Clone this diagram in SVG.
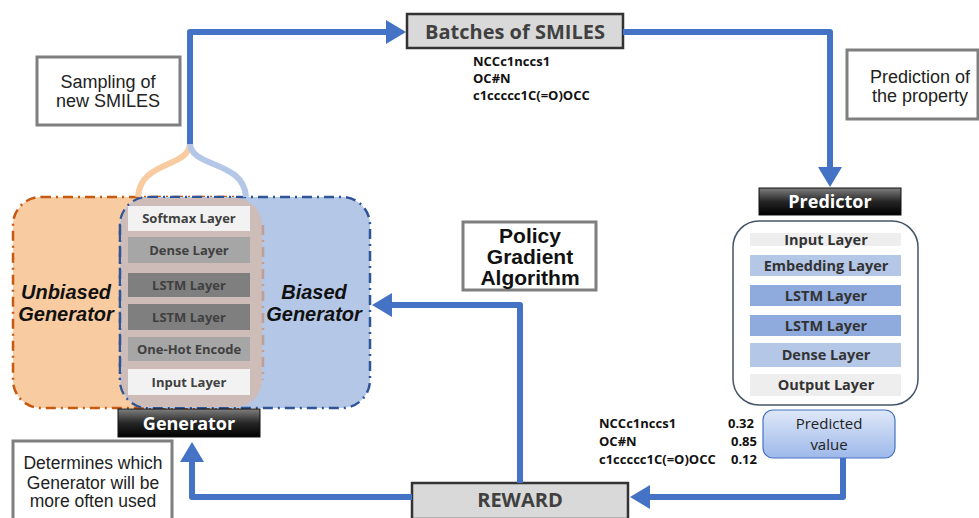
<svg xmlns="http://www.w3.org/2000/svg" width="979" height="518" viewBox="0 0 979 518">
<defs>
<style>
.lbl{font-family:"Liberation Sans",Arial,sans-serif;font-size:18px;fill:#222;text-anchor:middle}
.box{fill:#fff;stroke:#7f7f7f;stroke-width:3}
.gray{fill:#d9d9d9;stroke:#333;stroke-width:2.5}
.hdr{font-family:"Open Sans",sans-serif;font-weight:bold;font-size:20px;fill:#404040;text-anchor:middle}
.wt{font-family:"Open Sans",sans-serif;font-weight:bold;font-size:18px;fill:#fff;text-anchor:middle}
.ly{font-family:"Open Sans",sans-serif;font-weight:bold;font-size:13px;fill:#404040;text-anchor:middle}
.ly2{font-family:"Open Sans",sans-serif;font-weight:bold;font-size:14.5px;fill:#333;text-anchor:middle}
.sm{font-family:"Open Sans",sans-serif;font-weight:bold;font-size:13px;fill:#111}
.gen{font-family:"Liberation Sans",Arial,sans-serif;font-weight:bold;font-style:italic;font-size:20px;fill:#111;text-anchor:middle}
.con{fill:none;stroke:#4472c4;stroke-width:6;stroke-linejoin:round;marker-end:url(#ah)}
</style>
<marker id="ah" markerUnits="userSpaceOnUse" markerWidth="22" markerHeight="24" refX="10" refY="12" orient="auto" viewBox="0 0 22 24">
<path d="M0,0 L20,12 L0,24 z" fill="#4472c4"/>
</marker>
<linearGradient id="dk" x1="0" y1="0" x2="0" y2="1">
<stop offset="0" stop-color="#7f7f7f"/><stop offset="0.5" stop-color="#262626"/><stop offset="1" stop-color="#000"/>
</linearGradient>
<linearGradient id="pv" x1="0" y1="0" x2="0" y2="1">
<stop offset="0" stop-color="#dfe8f8"/><stop offset="1" stop-color="#9db8ea"/>
</linearGradient>
</defs>
<rect width="979" height="518" fill="#fff"/>

<g id="generators">
<rect x="13" y="197" width="250" height="211" rx="28" fill="#f8cba0" stroke="#c55a11" stroke-width="2.5" stroke-dasharray="10,5,2,5"/>
<rect x="120" y="197" width="250" height="211" rx="28" fill="#b4c7e7" stroke="#2f5597" stroke-width="2.5" stroke-dasharray="10,5,2,5"/>
<rect x="121" y="198" width="141" height="209" rx="27" fill="#cdbcb8"/>
<path d="M263,225 V380" stroke="#c55a11" stroke-opacity="0.35" stroke-width="2.5" stroke-dasharray="10,5,2,5" fill="none"/>
<path d="M120,225 V380" stroke="#2f5597" stroke-width="2.5" stroke-dasharray="10,5,2,5" fill="none"/>
<text class="gen" x="66" y="299">Unbiased</text>
<text class="gen" x="66" y="321">Generator</text>
<text class="gen" x="314" y="299">Biased</text>
<text class="gen" x="314" y="321">Generator</text>
</g>

<g id="gen-layers">
<rect x="128" y="206" width="122" height="25" fill="#f2f2f2"/><text class="ly" x="189" y="223">Softmax Layer</text>
<rect x="128" y="237" width="122" height="26" fill="#a6a6a6"/><text class="ly" x="189" y="255">Dense Layer</text>
<rect x="128" y="273" width="122" height="24" fill="#7f7f7f"/><text class="ly" x="189" y="290">LSTM Layer</text>
<rect x="128" y="304" width="122" height="26" fill="#7f7f7f"/><text class="ly" x="189" y="322">LSTM Layer</text>
<rect x="128" y="337" width="122" height="24" fill="#a6a6a6"/><text class="ly" x="189" y="354">One-Hot Encode</text>
<rect x="128" y="369" width="122" height="26" fill="#f2f2f2"/><text class="ly" x="189" y="387">Input Layer</text>
</g>

<g id="generator">
<rect x="118" y="409" width="142" height="28" fill="url(#dk)" stroke="#111" stroke-width="1"/>
<text class="wt" x="189" y="430">Generator</text>
</g>

<g id="sampling">
<rect class="box" x="37" y="57" width="143" height="68"/>
<text class="lbl" x="108" y="88">Sampling of</text>
<text class="lbl" x="108" y="107">new SMILES</text>
</g>

<g id="batches">
<rect class="gray" x="407" y="14" width="216" height="34"/>
<text class="hdr" x="515" y="39">Batches of SMILES</text>
<text class="sm" x="473" y="66">NCCc1nccs1</text>
<text class="sm" x="473" y="83">OC#N</text>
<text class="sm" x="473" y="100">c1ccccc1C(=O)OCC</text>
</g>

<g id="prediction-note">
<rect class="box" x="847" y="50" width="131" height="69"/>
<text class="lbl" x="920" y="83">Prediction of</text>
<text class="lbl" x="920" y="102">the property</text>
</g>

<g id="predictor">
<rect x="759" y="188" width="142" height="27" fill="url(#dk)" stroke="#111" stroke-width="1"/>
<text class="wt" x="830" y="208">Predictor</text>
</g>

<g id="predictor-layers">
<rect x="733" y="221" width="185" height="184" rx="26" fill="#fff" stroke="#44546a" stroke-width="1.5"/>
<rect x="750" y="233" width="151" height="13" fill="#eeeeee"/><text class="ly2" x="826" y="245">Input Layer</text>
<rect x="750" y="255" width="151" height="21" fill="#b4c7e7"/><text class="ly2" x="826" y="271">Embedding Layer</text>
<rect x="750" y="285" width="151" height="21" fill="#8faadc"/><text class="ly2" x="826" y="301">LSTM Layer</text>
<rect x="750" y="315" width="151" height="21" fill="#8faadc"/><text class="ly2" x="826" y="331">LSTM Layer</text>
<rect x="750" y="343" width="151" height="24" fill="#b4c7e7"/><text class="ly2" x="826" y="360">Dense Layer</text>
<rect x="750" y="374" width="151" height="22" fill="#eeeeee"/><text class="ly2" x="826" y="390">Output Layer</text>
</g>

<g id="predicted-value">
<rect x="763" y="410" width="132" height="48" rx="10" fill="url(#pv)" stroke="#4472c4" stroke-width="1.2"/>
<text class="ly" x="829" y="429" style="font-weight:normal;font-size:15px;fill:#222">Predicted</text>
<text class="ly" x="829" y="450" style="font-weight:normal;font-size:15px;fill:#222">value</text>
<text class="sm" x="599" y="428">NCCc1nccs1</text>
<text class="sm" x="599" y="446">OC#N</text>
<text class="sm" x="599" y="464">c1ccccc1C(=O)OCC</text>
<text class="sm" x="754" y="428" text-anchor="end">0.32</text>
<text class="sm" x="757" y="446" text-anchor="end">0.85</text>
<text class="sm" x="757" y="464" text-anchor="end">0.12</text>
</g>

<g id="policy">
<rect class="box" x="463" y="222" width="133" height="68"/>
<text class="lbl" x="530" y="243" style="font-weight:bold;font-size:21px;fill:#111">Policy</text>
<text class="lbl" x="530" y="264" style="font-weight:bold;font-size:21px;fill:#111">Gradient</text>
<text class="lbl" x="530" y="285" style="font-weight:bold;font-size:21px;fill:#111">Algorithm</text>
</g>

<g id="reward">
<rect class="gray" x="412" y="483" width="216" height="36"/>
<text class="hdr" x="520" y="507">REWARD</text>
</g>

<g id="determines">
<rect class="box" x="13" y="441" width="159" height="80"/>
<text class="lbl" x="93" y="469" style="font-size:17.5px">Determines which</text>
<text class="lbl" x="93" y="489" style="font-size:17.5px">Generator will be</text>
<text class="lbl" x="93" y="507" style="font-size:17.5px">more often used</text>
</g>

<g id="connectors">
<path d="M190,143 C190,168 140,160 138,197" fill="none" stroke="#f8cba0" stroke-width="6"/>
<path d="M190,143 C190,168 244,160 246,197" fill="none" stroke="#b4c7e7" stroke-width="6"/>
<path class="con" d="M190,144 V32 H396"/>
<path class="con" d="M623,32 H830 V177"/>
<path class="con" d="M843,458 V497 H640"/>
<path class="con" d="M520,483 V305 H382"/>
<path class="con" d="M412,497 H192 V452"/>
</g>
</svg>
